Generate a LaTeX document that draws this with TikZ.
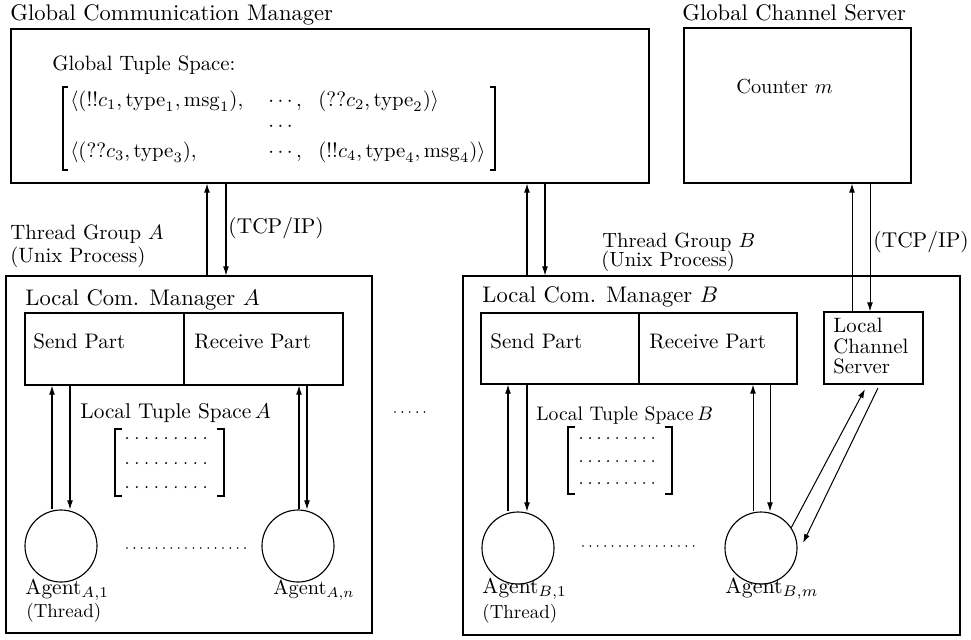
\documentclass[tikz,border=0pt]{standalone}
\usetikzlibrary{arrows.meta,fit}
\begin{document}
\begin{tikzpicture}[x=0.443pt,y=-0.443pt,
  box/.style={draw,inner sep=0pt,line width=0.5pt},
  txt/.style={anchor=base west,inner sep=0pt},
  arr/.style={-{Latex[length=4pt,width=2.6pt]},line width=0.45pt},
  agent/.style={circle,draw,minimum size=31.9pt,inner sep=0pt,line width=0.5pt},
  dotrow/.style={line width=0.9pt,line cap=round,dash pattern=on 0pt off 4.32pt},
  dotrowb/.style={line width=0.9pt,line cap=round,dash pattern=on 0pt off 3.99pt},
  dotline/.style={line width=0.8pt,line cap=round,dash pattern=on 0pt off 3.27pt},
  brk/.style={line width=1pt}
]
\useasboundingbox (0,0) rectangle (971,639);

% boxes
\node[box,fit={(11,29)(649,183)}] (gcm) {};
\node[box,fit={(684,28)(911,183)}] (gcs) {};
\node[box,fit={(6,276)(372,633)}] (lcmA) {};
\node[box,fit={(463,276)(960,635)}] (lcmB) {};
\node[box,fit={(25,313)(184,385)}] (sendA) {};
\node[box,fit={(184,313)(343,385)}] (recvA) {};
\node[box,fit={(481,313)(639,384)}] (sendB) {};
\node[box,fit={(639,313)(797,384)}] (recvB) {};
\node[box,fit={(824,312)(923,384)}] (lcs) {};

% agents
\node[agent] (a1) at (61,546) {};
\node[agent] (an) at (298,546) {};
\node[agent] (b1) at (518,548) {};
\node[agent] (bm) at (761,548) {};

% titles and labels
\node[txt] (tgcm) at (10,20) {Global Communication Manager};
\node[txt] (tgcs) at (682,20) {Global Channel Server};
\node[txt,scale=0.92] (tgts) at (52,70) {Global Tuple Space:};
\node[txt,scale=0.9] (tcnt) at (736,93) {Counter $m$};
\node[txt,scale=0.92] (ttga) at (10,239) {Thread Group $A$};
\node[txt,scale=0.92] (tupa) at (10,262) {(Unix Process)};
\node[txt,scale=0.95] (ttcpa) at (228,233) {(TCP/IP)};
\node[txt,scale=0.91] (ttgb) at (602,247) {Thread Group $B$};
\node[txt,scale=0.91] (tupb) at (601,266) {(Unix Process)};
\node[txt,scale=0.95] (ttcpb) at (873,247) {(TCP/IP)};
\node[txt] (tlcma) at (25,305) {Local Com. Manager $A$};
\node[txt] (tlcmb) at (482,302) {Local Com. Manager $B$};
\node[txt,scale=0.93] (tsa) at (33,348) {Send Part};
\node[txt,scale=0.93] (tra) at (194,348) {Receive Part};
\node[txt,scale=0.93] (tsb) at (490,348) {Send Part};
\node[txt,scale=0.93] (trb) at (649,348) {Receive Part};
\node[txt,scale=0.92] (tlcs1) at (833,332) {Local};
\node[txt,scale=0.92] (tlcs2) at (833,353) {Channel};
\node[txt,scale=0.92] (tlcs3) at (833,373) {Server};
\node[txt,scale=0.945] (tltsa) at (80,418) {Local Tuple Space\,$A$};
\node[txt,scale=0.87] (tltsb) at (536,420) {Local Tuple Space\,$B$};
\node[txt,scale=0.95] (la1) at (25,594) {Agent$_{A,1}$};
\node[txt,scale=0.84] (la1t) at (26,617) {(Thread)};
\node[txt,scale=0.9] (lan) at (273,594) {Agent$_{A,n}$};
\node[txt,scale=0.95] (lb1) at (482,593) {Agent$_{B,1}$};
\node[txt,scale=0.84] (lb1t) at (482,618) {(Thread)};
\node[txt,scale=0.97] (lbm) at (725,593) {Agent$_{B,m}$};

% global tuple space matrix
\draw[brk] (68,87) -- (63,87) -- (63,170) -- (68,170);
\draw[brk] (490,87) -- (495,87) -- (495,170) -- (490,170);
\node[txt,scale=0.92] (r1c1) at (70,106) {$\langle(!!c_1,\mathrm{type}_1,\mathrm{msg}_1),$};
\node[txt,scale=0.92] (r1c2) at (268,106) {$\cdots,$};
\node[txt,scale=0.92] (r1c3) at (318,106) {$(??c_2,\mathrm{type}_2)\rangle$};
\node[txt,scale=0.92] (r2c2) at (268,131) {$\cdots$};
\node[txt,scale=0.92] (r3c1) at (70,157) {$\langle(??c_3,\mathrm{type}_3),$};
\node[txt,scale=0.92] (r3c2) at (268,157) {$\cdots,$};
\node[txt,scale=0.92] (r3c3) at (318,157) {$(!!c_4,\mathrm{type}_4,\mathrm{msg}_4)\rangle$};

% local tuple space A
\draw[brk] (122,429) -- (115,429) -- (115,496) -- (122,496);
\draw[brk] (217,429) -- (224,429) -- (224,496) -- (217,496);
\draw[dotrow] (127,438) -- (205.5,438);
\draw[dotrow] (127,463) -- (205.5,463);
\draw[dotrow] (127,487) -- (205.5,487);
% local tuple space B
\draw[brk] (575,427) -- (568,427) -- (568,494) -- (575,494);
\draw[brk] (665,427) -- (672,427) -- (672,494) -- (665,494);
\draw[dotrowb] (581,438) -- (653.5,438);
\draw[dotrowb] (581,461) -- (653.5,461);
\draw[dotrowb] (581,483) -- (653.5,483);

% dotted lines
\draw[dotline] (127,548) -- (245.5,548);
\draw[dotline] (583,546) -- (701,546);
\draw[dotline] (395,412) -- (425.5,412);

% coordinates for connectors
\coordinate (xA1) at (207,0);
\coordinate (xA2) at (226,0);
\coordinate (xB1) at (527,0);
\coordinate (xB2) at (545,0);
\coordinate (xC1) at (852,0);
\coordinate (xC2) at (870,0);
\coordinate (xa11) at (52,0);
\coordinate (xa12) at (70,0);
\coordinate (xan1) at (299,0);
\coordinate (xan2) at (307,0);
\coordinate (xb11) at (508,0);
\coordinate (xb12) at (527,0);
\coordinate (xbm1) at (753,0);
\coordinate (xbm2) at (770,0);
\coordinate (d1) at (865,389);
\coordinate (d2) at (878,388);
\coordinate (d3) at (803,543);

% connectors
\draw[arr] (lcmA.north -| xA1) -- (gcm.south -| xA1);
\draw[arr] (gcm.south -| xA2) -- (lcmA.north -| xA2);
\draw[arr] (lcmB.north -| xB1) -- (gcm.south -| xB1);
\draw[arr] (gcm.south -| xB2) -- (lcmB.north -| xB2);
\draw[arr] (lcs.north -| xC1) -- (gcs.south -| xC1);
\draw[arr] (gcs.south -| xC2) -- (lcs.north -| xC2);

\draw[arr] (a1.north -| xa11) -- (sendA.south -| xa11);
\draw[arr] (sendA.south -| xa12) -- (a1.north -| xa12);
\draw[arr] (an.north -| xan1) -- (recvA.south -| xan1);
\draw[arr] (recvA.south -| xan2) -- (an.north -| xan2);
\draw[arr] (b1.north -| xb11) -- (sendB.south -| xb11);
\draw[arr] (sendB.south -| xb12) -- (b1.north -| xb12);
\draw[arr] (bm.north -| xbm1) -- (recvB.south -| xbm1);
\draw[arr] (recvB.south -| xbm2) -- (bm.north -| xbm2);
\draw[arr] (bm.34) -- (d1);
\draw[arr] (d2) -- (d3);
\end{tikzpicture}
\end{document}
